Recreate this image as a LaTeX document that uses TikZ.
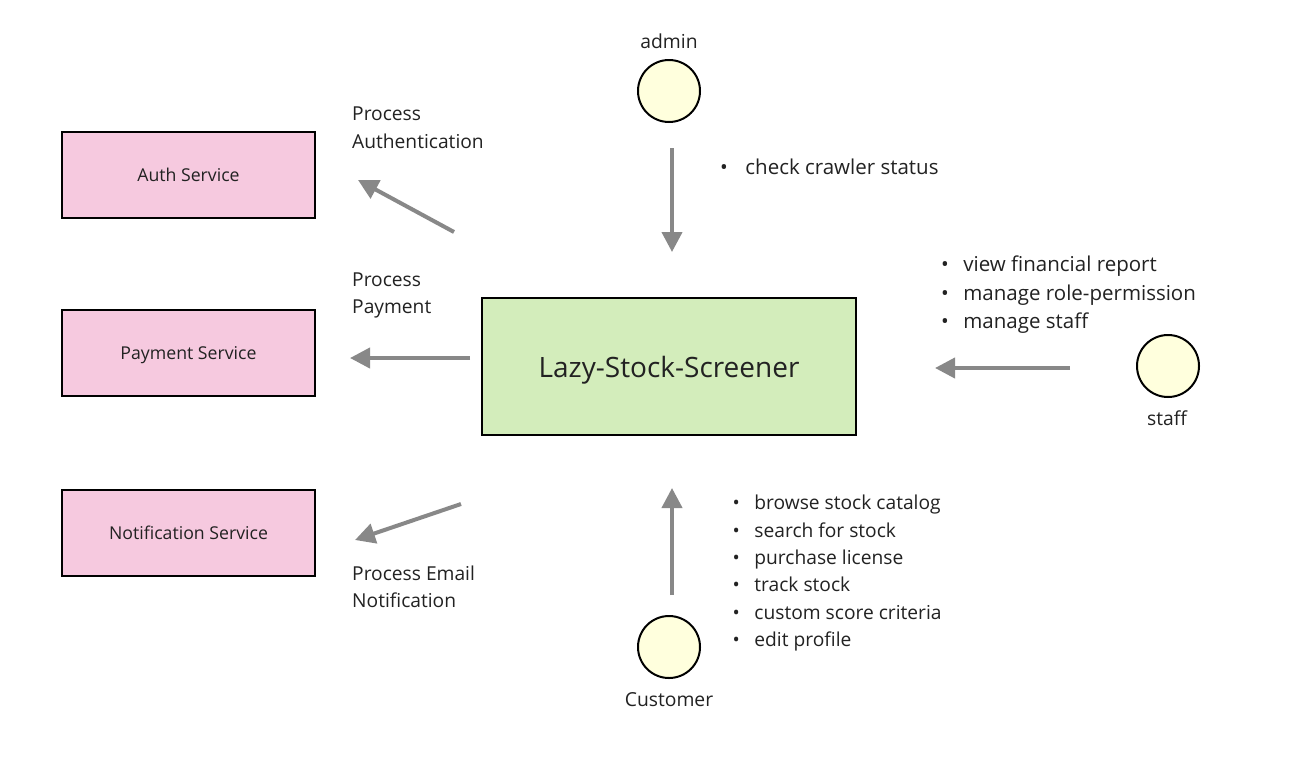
\documentclass[tikz,border=0pt]{standalone}
\usepackage{fontspec}
\setmainfont{Open Sans}
\usepackage{tikz}
\usetikzlibrary{arrows.meta,positioning}
\definecolor{svcpink}{HTML}{F6C9DF}
\definecolor{sysgreen}{HTML}{D3EDBB}
\definecolor{actoryellow}{HTML}{FFFFDD}
\definecolor{flowgray}{HTML}{888888}
\definecolor{inkdark}{HTML}{222222}
\tikzset{
  svcbox/.style={rectangle, draw=black, line width=2pt, fill=svcpink, minimum width=253pt,
                 minimum height=86pt, text depth=0pt, text=inkdark, font=\fontsize{17.7}{20}\selectfont},
  sysbox/.style={rectangle, draw=black, line width=2pt, fill=sysgreen, minimum width=374pt,
                 minimum height=137pt, text depth=0pt, text=inkdark, font=\fontsize{28}{32}\selectfont},
  actor/.style={circle, draw=black, line width=2pt, fill=actoryellow, minimum size=62pt, inner sep=0pt},
  lbl/.style={anchor=base west, inner sep=0pt, text=inkdark, font=\fontsize{19.2}{28}\selectfont},
  biglbl/.style={lbl, font=\fontsize{20.5}{28}\selectfont},
  actorlbl/.style={anchor=base, inner sep=0pt, text=inkdark, font=\fontsize{19.3}{28}\selectfont},
  flow/.style={draw=flowgray, line width=4pt, -{Triangle[length=20pt,width=20pt]}}
}
\newcommand{\bul}[1]{\textbullet\hspace{#1}}

\begin{document}
\begin{tikzpicture}[x=1pt,y=-1pt]
\useasboundingbox[fill=white] (0,0) rectangle (1300,769);
% services
\node[svcbox] (auth) at (188.5,175) {Auth Service};
\node[svcbox] (pay) at (188.5,353) {Payment Service};
\node[svcbox] (notif) at (188.5,533) {Notification Service};
% system
\node[sysbox] (lss) at (669,366.5) {Lazy-Stock-Screener};
% actors
\node[actor] (admin) at (669,91) {};
\node[actor] (staff) at (1168,366) {};
\node[actor] (cust) at (669,647) {};
\node[actorlbl] (adminlbl) at (669,48) {admin};
\node[actorlbl] (stafflbl) at (1167,425) {staff};
\node[actorlbl] (custlbl) at (669,706) {Customer};
% arrow ends
\coordinate (authA) at (454,232);
\coordinate (authB) at (358,180);
\coordinate (payA) at (470,358);
\coordinate (payB) at (350,358);
\coordinate (notifA) at (461,504);
\coordinate (notifB) at (355,540);
\coordinate (adminA) at (672,148);
\coordinate (adminB) at (672,252);
\coordinate (staffA) at (1070,368);
\coordinate (staffB) at (935,368);
\coordinate (custA) at (672,595);
\coordinate (custB) at (672,488);
\draw[flow] (authA) -- (authB);
\draw[flow] (payA) -- (payB);
\draw[flow] (notifA) -- (notifB);
\draw[flow] (adminA) -- (adminB);
\draw[flow] (staffA) -- (staffB);
\draw[flow] (custA) -- (custB);
% flow labels
\node[lbl] (authl1) at (352,120) {Process};
\node[lbl] (authl2) at (352,148) {Authentication};
\node[lbl] (payl1) at (352,286) {Process};
\node[lbl] (payl2) at (352,313) {Payment};
\node[lbl] (notifl1) at (352,580) {Process Email};
\node[lbl] (notifl2) at (352,607) {Notification};
% use cases
\node[biglbl] (adm1) at (720,174) {\bul{17.5pt}check crawler status};
\node[biglbl] (stf1) at (941,271) {\bul{14.5pt}view financial report};
\node[biglbl] (stf2) at (941,300) {\bul{14.5pt}manage role-permission};
\node[biglbl] (stf3) at (941,328) {\bul{14.5pt}manage staff};
\node[lbl] (cst1) at (732.5,509) {\bul{14.5pt}browse stock catalog};
\node[lbl] (cst2) at (732.5,537) {\bul{14.5pt}search for stock};
\node[lbl] (cst3) at (732.5,564) {\bul{14.5pt}purchase license};
\node[lbl] (cst4) at (732.5,591) {\bul{14.5pt}track stock};
\node[lbl] (cst5) at (732.5,619) {\bul{14.5pt}custom score criteria};
\node[lbl] (cst6) at (732.5,646) {\bul{14.5pt}edit profile};
\end{tikzpicture}
\end{document}
